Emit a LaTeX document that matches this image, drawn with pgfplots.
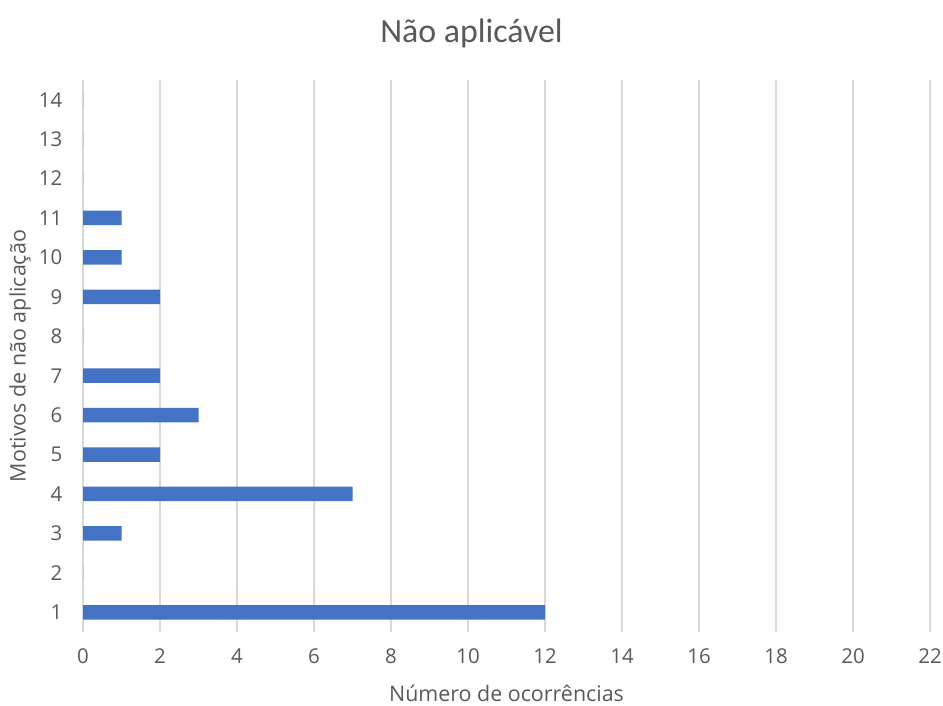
\documentclass[border=0pt]{standalone}
\usepackage{fontspec}
\setmainfont{Open Sans}
\newfontfamily\titlefont{Carlito}
\usepackage{pgfplots}
\pgfplotsset{compat=1.18}
\definecolor{barblue}{HTML}{4472C4}
\definecolor{txt}{HTML}{595959}
\definecolor{gridc}{HTML}{D9D9D9}
\begin{document}
\begin{tikzpicture}
\useasboundingbox (0,0) rectangle (943bp,706bp);
\begin{axis}[
  at={(83bp,74bp)}, anchor=south west,
  scale only axis, width=847bp, height=552bp,
  xbar, bar width=14.5bp,
  xmin=0, xmax=22, ymin=0.5, ymax=14.5,
  xtick={0,2,...,22}, ytick={1,...,14},
  axis line style={draw=none}, tick style={draw=none},
  xmajorgrids, major grid style={gridc, line width=1.3bp},
  /pgf/number format/assume math mode=true,
  ticklabel style={font=\fontsize{20.5}{24}\selectfont, text=txt},
  xticklabel style={yshift=-13bp},
  yticklabel style={xshift=-13bp},
  title={N\~ao aplic\'avel},
  title style={font=\titlefont\fontsize{34}{40}\selectfont, text=txt, at={(rel axis cs:0.4587,1.073)}, anchor=center},
  xlabel={N\'umero de ocorr\^encias},
  xlabel style={font=\fontsize{21.5}{25}\selectfont, text=txt, at={(rel axis cs:0.5,-0.1105)}, anchor=center},
  ylabel={Motivos de n\~ao aplica\c{c}\~ao},
  ylabel style={font=\fontsize{21.5}{25}\selectfont, text=txt, at={(rel axis cs:-0.0744,0.50)}, anchor=center},
]
\addplot[fill=barblue, draw=none] coordinates {
  (12,1) (0,2) (1,3) (7,4) (2,5) (3,6) (2,7) (0,8) (2,9) (1,10) (1,11) (0,12) (0,13) (0,14)
};
\end{axis}
\end{tikzpicture}
\end{document}
